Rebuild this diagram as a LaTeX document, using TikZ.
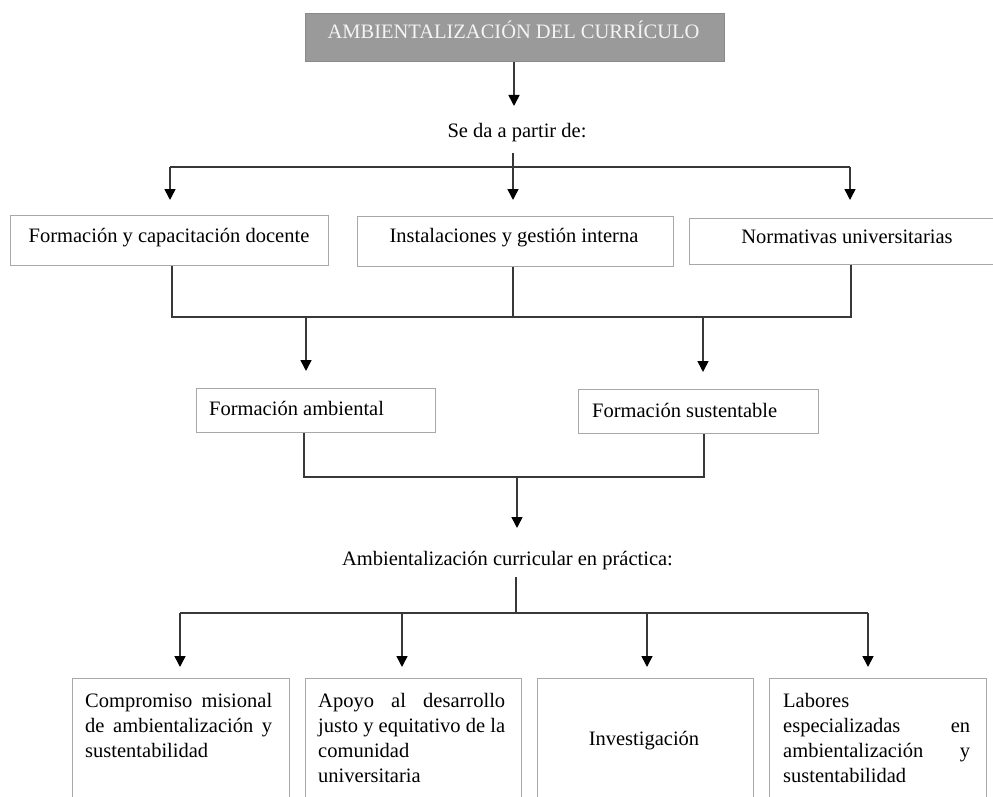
\documentclass[tikz,border=0pt]{standalone}
\usepackage{fontspec}
\setmainfont{Liberation Serif}
\usetikzlibrary{arrows.meta}
\definecolor{linegray}{HTML}{383838}
\definecolor{boxgray}{HTML}{A8A8A8}
\definecolor{topfill}{HTML}{9A9A9A}
\definecolor{topline}{HTML}{8A8A8A}
\definecolor{toptext}{HTML}{F4F4F4}
\newcommand{\jline}[1]{\makebox[187pt][s]{#1}}
\begin{document}
\begin{tikzpicture}[x=1pt,y=-1pt,
  conn/.style={draw=linegray, line width=1.6pt},
  arr/.style={conn, -{Triangle[width=11pt,length=11pt,fill=black,color=black]}},
  box/.style={draw=boxgray, line width=1.1pt, fill=white, inner sep=0pt, rectangle, anchor=north west},
  lbl/.style={inner sep=0pt, font=\fontsize{20.5}{25}\selectfont, text=black},
]
\useasboundingbox (0,0) rectangle (993,797);
\clip (0,0) rectangle (993,797);
\fill[white] (0,0) rectangle (993,797);

% top box
\node[box, draw=topline, fill=topfill, minimum width=419pt, minimum height=48pt] (top) at (305,13) {};
\node[lbl, text=toptext, anchor=base] (toptxt) at (513.5,39) {AMBIENTALIZACIÓN DEL CURRÍCULO};

\node[lbl, anchor=base] (se) at (517,138) {Se da a partir de:};

% middle row boxes
\node[box, minimum width=318pt, minimum height=50pt] (m1) at (10,215) {};
\node[box, minimum width=316pt, minimum height=50pt] (m2) at (357,216) {};
\node[box, minimum width=304pt, minimum height=46pt] (m3) at (689,218) {};
\node[lbl, anchor=base] (m1t) at (169,242) {Formación y capacitación docente};
\node[lbl, anchor=base] (m2t) at (514,242) {Instalaciones y gestión interna};
\node[lbl, anchor=base] (m3t) at (847,243) {Normativas universitarias};

% formation boxes
\node[box, minimum width=239pt, minimum height=44pt] (fa) at (196,388) {};
\node[box, minimum width=240pt, minimum height=44pt] (fs) at (578,389) {};
\node[lbl, anchor=base west] (fat) at (209,415) {Formación ambiental};
\node[lbl, anchor=base west] (fst) at (592,417) {Formación sustentable};

\node[lbl, anchor=base] (acp) at (507.5,565) {Ambientalización curricular en práctica:};

% bottom boxes
\node[box, minimum width=217pt, minimum height=160pt] (b1) at (72,678) {};
\node[box, minimum width=216pt, minimum height=160pt] (b2) at (305,678) {};
\node[box, minimum width=216pt, minimum height=160pt] (b3) at (537,678) {};
\node[box, minimum width=217pt, minimum height=160pt] (b4) at (769,678) {};
\node[lbl, anchor=base west] (b1t) at (85,707) {\parbox[t]{187pt}{\fontsize{20.5}{25}\selectfont
  \jline{Compromiso misional}\\
  \jline{de ambientalización y}\\
  sustentabilidad}};
\node[lbl, anchor=base west] (b2t) at (318,707) {\parbox[t]{187pt}{\fontsize{20.5}{25}\selectfont
  \jline{Apoyo al desarrollo}\\
  \jline{justo y equitativo de la}\\
  comunidad\\
  universitaria}};
\node[lbl, anchor=base] (b3t) at (644,745) {Investigación};
\node[lbl, anchor=base west] (b4t) at (783,707) {\parbox[t]{187pt}{\fontsize{20.5}{25}\selectfont
  Labores\\
  \jline{especializadas en}\\
  \jline{ambientalización y}\\
  sustentabilidad}};

% coordinates for junctions and arrow tips
\coordinate (s0) at (513,153);
\coordinate (h1m) at (513,167);
\coordinate (h1l) at (170,167);
\coordinate (h1r) at (850,167);
\coordinate (t1) at (170,200);
\coordinate (t2) at (513,200);
\coordinate (t3) at (850,200);

\coordinate (h2l) at (172,317);
\coordinate (h2m) at (513,317);
\coordinate (h2r) at (851,317);
\coordinate (h2a) at (306,317);
\coordinate (h2b) at (703,317);
\coordinate (ta) at (306,371);
\coordinate (tb) at (703,372);

\coordinate (h3l) at (304,477);
\coordinate (h3r) at (704,477);
\coordinate (h3m) at (517,477);
\coordinate (tc) at (517,528);

\coordinate (s4) at (516,577);
\coordinate (h4m) at (516,613);
\coordinate (h4l) at (180,613);
\coordinate (h4r) at (868,613);
\coordinate (u1) at (180,667);
\coordinate (u2) at (402,667);
\coordinate (u3) at (647,667);
\coordinate (u4) at (868,667);

% connectors
\draw[arr] (top.south -| 514,0) -- (514,106);
\draw[conn] (s0) -- (h1m);
\draw[conn] (h1l) -- (h1r);
\draw[arr] (h1l) -- (t1);
\draw[arr] (h1m) -- (t2);
\draw[arr] (h1r) -- (t3);

\draw[conn] (m1.south -| h2l) -- (h2l) -- (h2r) -- (m3.south -| h2r);
\draw[conn] (m2.south -| h2m) -- (h2m);
\draw[arr] (h2a) -- (ta);
\draw[arr] (h2b) -- (tb);

\draw[conn] (fa.south -| h3l) -- (h3l) -- (h3r) -- (fs.south -| h3r);
\draw[arr] (h3m) -- (tc);

\draw[conn] (s4) -- (h4m);
\draw[conn] (h4l) -- (h4r);
\draw[arr] (h4l) -- (u1);
\draw[arr] (u2 |- h4m) -- (u2);
\draw[arr] (u3 |- h4m) -- (u3);
\draw[arr] (h4r) -- (u4);
\end{tikzpicture}
\end{document}
